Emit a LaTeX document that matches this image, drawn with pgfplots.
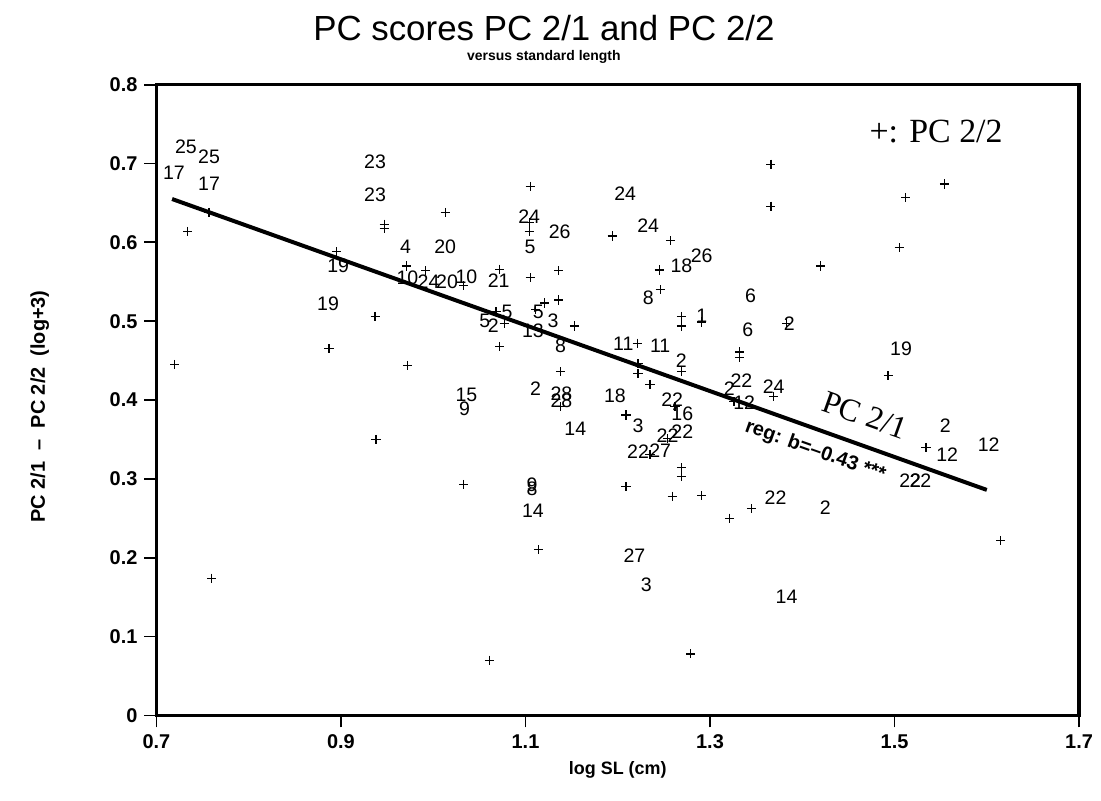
\documentclass[border=0pt]{standalone}
\usepackage{fontspec}
\setmainfont{Liberation Sans}
\newfontfamily\seriffont{Liberation Serif}
\usepackage{pgfplots}
\usepackage{pgfplotstable}
\pgfplotsset{compat=1.18}

% PC 2/1 scores, drawn as their sample numbers
\pgfplotstableread{
x y lab
0.732 0.721 25
0.757 0.709 25
0.719 0.688 17
0.757 0.674 17
0.937 0.702 23
0.937 0.660 23
0.970 0.594 4
1.013 0.594 20
0.897 0.570 19
0.886 0.522 19
0.972 0.555 10
0.995 0.550 24
1.015 0.550 20
1.036 0.556 10
1.071 0.552 21
1.105 0.594 5
1.104 0.633 24
1.137 0.614 26
1.208 0.662 24
1.233 0.621 24
1.269 0.570 18
1.291 0.583 26
1.233 0.530 8
1.344 0.532 6
1.291 0.507 1
1.341 0.489 6
1.386 0.497 2
1.056 0.501 5
1.065 0.494 2
1.080 0.512 5
1.114 0.512 5
1.130 0.501 3
1.108 0.488 13
1.138 0.469 8
1.206 0.472 11
1.246 0.469 11
1.269 0.450 2
1.334 0.424 22
1.321 0.415 2
1.337 0.397 12
1.369 0.417 24
1.036 0.407 15
1.034 0.389 9
1.111 0.415 2
1.139 0.408 28
1.139 0.399 28
1.197 0.406 18
1.259 0.401 22
1.270 0.383 16
1.222 0.367 3
1.154 0.364 14
1.270 0.360 22
1.254 0.355 22
1.222 0.335 22
1.246 0.336 27
1.507 0.465 19
1.555 0.368 2
1.557 0.331 12
1.602 0.343 12
1.517 0.298 22
1.528 0.298 22
1.371 0.276 22
1.425 0.263 2
1.107 0.292 9
1.107 0.287 8
1.108 0.260 14
1.218 0.202 27
1.231 0.166 3
1.383 0.150 14
}\pcone

% PC 2/2 scores
\pgfplotstableread{
x y
0.734 0.614
0.757 0.638
0.947 0.623
0.947 0.618
1.013 0.638
0.895 0.588
0.937 0.506
0.971 0.570
0.992 0.564
1.033 0.545
1.072 0.566
1.105 0.555
1.136 0.564
1.121 0.523
1.136 0.527
1.111 0.515
1.068 0.512
1.077 0.497
1.153 0.494
1.072 0.468
0.972 0.444
1.138 0.436
1.105 0.671
1.104 0.625
1.104 0.614
1.194 0.608
1.257 0.602
1.245 0.565
1.246 0.540
1.269 0.506
1.269 0.494
1.291 0.499
1.366 0.699
1.366 0.646
1.554 0.674
1.512 0.657
1.505 0.593
1.420 0.570
1.383 0.497
1.332 0.461
1.332 0.454
1.221 0.472
1.222 0.446
1.222 0.434
1.235 0.420
1.269 0.436
1.262 0.392
1.209 0.381
1.235 0.331
1.269 0.314
1.269 0.303
1.326 0.398
1.369 0.405
1.493 0.431
1.534 0.340
0.720 0.445
0.887 0.465
0.938 0.350
1.033 0.293
1.138 0.392
1.209 0.290
1.259 0.278
1.291 0.279
1.345 0.262
1.321 0.250
1.615 0.222
1.114 0.210
0.760 0.174
1.279 0.078
1.061 0.070
1.254 0.351
}\pctwo

\begin{document}
\begin{tikzpicture}
\useasboundingbox (-78.5pt,-42.5pt) rectangle (474pt,359pt);
\begin{axis}[
  at={(0pt,0pt)}, anchor=south west,
  scale only axis, width=463pt, height=316.5pt,
  xmin=0.7, xmax=1.7, ymin=0, ymax=0.8,
  clip=false,
  xtick={0.7,0.9,1.1,1.3,1.5,1.7},
  xticklabels={0.7,0.9,1.1,1.3,1.5,1.7},
  ytick={0,0.1,0.2,0.3,0.4,0.5,0.6,0.7,0.8},
  yticklabels={0,0.1,0.2,0.3,0.4,0.5,0.6,0.7,0.8},
  tick pos=left, tick align=outside,
  major tick length=6pt,
  axis line style={line width=1.6pt},
  every tick/.style={black, line width=0.9pt},
  tick label style={font=\fontsize{10}{12}\selectfont\bfseries},
  xlabel={log SL (cm)},
  xlabel style={at={(axis description cs:0.5,-0.0869)}, anchor=center,
    font=\fontsize{9}{11}\selectfont\bfseries},
  ylabel={PC 2/1 \ \textendash\ \ PC 2/2 \ (log+3)},
  ylabel style={at={(axis description cs:-0.1264,0.49)}, anchor=center,
    font=\fontsize{10}{12}\selectfont\bfseries},
]
\addplot[line width=2pt, black] coordinates {(0.717,0.655) (1.600,0.286)};

\addplot[only marks, mark=+, mark size=2.3pt, mark options={line width=0.6pt}]
  table[x=x, y=y] {\pctwo};

\addplot[only marks, mark=none, point meta=explicit symbolic,
  nodes near coords,
  nodes near coords style={anchor=center, inner sep=0pt,
    font=\fontsize{9.8}{10}\selectfont}]
  table[x=x, y=y, meta=lab] {\pcone};

\node[font=\seriffont\fontsize{17}{17}\selectfont] at (axis cs:1.545,0.740) {+: PC 2/2};
\node[font=\seriffont\fontsize{16}{16}\selectfont, rotate=-19.6] at (axis cs:1.468,0.381) {PC 2/1};
\node[font=\fontsize{10}{10}\selectfont\bfseries, rotate=-19.6] at (axis cs:1.414,0.335) {reg: b=\textendash0.43 ***};

\node[font=\fontsize{17.5}{18}\selectfont, yshift=28.5pt] at (rel axis cs:0.42,1) {PC scores PC 2/1 and PC 2/2};
\node[font=\fontsize{7}{8}\selectfont\bfseries, yshift=14pt] at (rel axis cs:0.42,1) {versus standard length};
\end{axis}
\end{tikzpicture}
\end{document}
